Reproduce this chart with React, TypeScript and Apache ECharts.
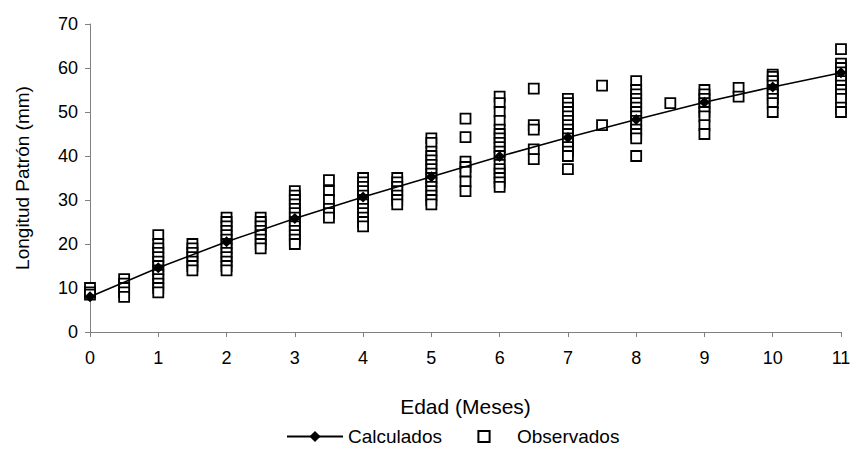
import React, { useEffect, useRef } from "react";
import * as echarts from "echarts";

const calcAges = [0, 1, 2, 3, 4, 5, 6, 7, 8, 9, 10, 11];
const calcLengths = [8.0, 14.6, 20.5, 25.8, 30.7, 35.3, 39.9, 44.2, 48.3, 52.2, 55.7, 58.9];

const obsAges = [0, 0.5, 1, 1.5, 2, 2.5, 3, 3.5, 4, 4.5, 5, 5.5, 6, 6.5, 7, 7.5, 8, 8.5, 9, 9.5, 10, 11];
const obsLengths: number[][] = [
  [10, 9, 8.5],
  [12, 11, 10, 9, 8],
  [22, 20, 19, 18, 17, 16, 15, 14, 13, 12, 11, 10, 9],
  [20, 19, 18, 17, 16, 15, 14],
  [26, 25, 24, 23, 22, 21, 20, 19, 18, 17, 16, 15, 14],
  [26, 25, 24, 23, 22, 21, 20, 19],
  [32, 31, 30, 29, 28, 27, 26, 25, 24, 23, 22, 21, 20],
  [34.5, 32, 30, 28, 27, 26],
  [35, 34, 33, 32, 31, 30, 29, 28, 27, 26, 25, 24],
  [35, 34, 33, 32, 31, 30, 29],
  [44, 43, 41, 40, 39, 38, 37, 36, 35, 34, 33, 32, 31, 30, 29],
  [48.5, 44.3, 38.7, 37.5, 36.4, 34.2, 32],
  [53.5, 52, 50, 48, 46, 45, 44, 43, 42, 41, 40, 38, 37, 36, 35, 34, 33],
  [55.3, 47, 46, 41.5, 39.3],
  [53, 52, 51, 50, 49, 48, 47, 46, 45, 44, 43, 42, 41, 40, 37],
  [56, 47],
  [57, 55, 54, 53, 52, 51, 50, 49, 48, 47, 46, 45, 44, 40],
  [52],
  [55, 54, 53, 52, 51, 50, 49, 47, 45],
  [55.5, 53.5],
  [58.5, 58, 57, 56, 55, 54, 53, 52, 50],
  [64.3, 61, 60, 59, 58, 57, 56, 55, 54, 53, 51, 50],
];

const xTicks = { min: 0, max: 11, interval: 1 };
const yTicks = { min: 0, max: 70, interval: 10 };

const FONT = "'Liberation Sans', Arial, sans-serif";

export default function App() {
  const ref = useRef<HTMLDivElement>(null);
  useEffect(() => {
    if (!ref.current) return;
    const chart = echarts.init(ref.current, undefined, { renderer: "svg" });
    const calcData = calcAges.map((a, i) => [a, calcLengths[i]]);
    const obsData: number[][] = [];
    obsAges.forEach((a, i) => obsLengths[i].forEach((v) => obsData.push([a, v])));
    chart.setOption({
      animation: false,
      backgroundColor: "#fff",
      textStyle: { fontFamily: FONT, color: "#000" },
      grid: { left: 90, right: 14, top: 24, bottom: 117 },
      xAxis: {
        type: "value",
        min: xTicks.min,
        max: xTicks.max,
        interval: xTicks.interval,
        name: "Edad (Meses)",
        nameLocation: "middle",
        nameGap: 64,
        nameTextStyle: { fontSize: 21, color: "#000", fontFamily: FONT },
        axisLine: { lineStyle: { color: "#808080", width: 1 } },
        axisTick: { show: true, length: 5, lineStyle: { color: "#808080" } },
        axisLabel: { fontSize: 18, color: "#000", margin: 17, fontFamily: FONT },
        splitLine: { show: false },
      },
      yAxis: {
        type: "value",
        min: yTicks.min,
        max: yTicks.max,
        interval: yTicks.interval,
        name: "Longitud Patrón (mm)",
        nameLocation: "middle",
        nameGap: 58,
        nameTextStyle: { fontSize: 19, color: "#000", fontFamily: FONT },
        axisLine: { show: true, lineStyle: { color: "#808080", width: 1 } },
        axisTick: { show: true, length: 5, lineStyle: { color: "#808080" } },
        axisLabel: { fontSize: 18, color: "#000", margin: 12, fontFamily: FONT },
        splitLine: { show: false },
      },
      legend: {
        top: 427,
        left: 286,
        padding: 0,
        itemWidth: 56,
        itemHeight: 14,
        itemGap: 14,
        textStyle: { fontSize: 19, color: "#000", fontFamily: FONT },
        data: ["Calculados", "Observados"],
      },
      series: [
        {
          name: "Observados",
          type: "line",
          data: obsData,
          symbol: "rect",
          symbolSize: 10,
          showAllSymbol: true,
          lineStyle: { opacity: 0, width: 0 },
          itemStyle: { color: "#fff", borderColor: "#000", borderWidth: 1.8 },
          z: 2,
        },
        {
          name: "Calculados",
          type: "line",
          data: calcData,
          symbol: "diamond",
          symbolSize: 11,
          showAllSymbol: true,
          lineStyle: { color: "#000", width: 1.5 },
          itemStyle: { color: "#000" },
          z: 3,
        },
      ],
    });
    return () => chart.dispose();
  }, []);
  return <div ref={ref} style={{ width: 855, height: 449, position: "absolute", left: 0, top: 0 }} />;
}
